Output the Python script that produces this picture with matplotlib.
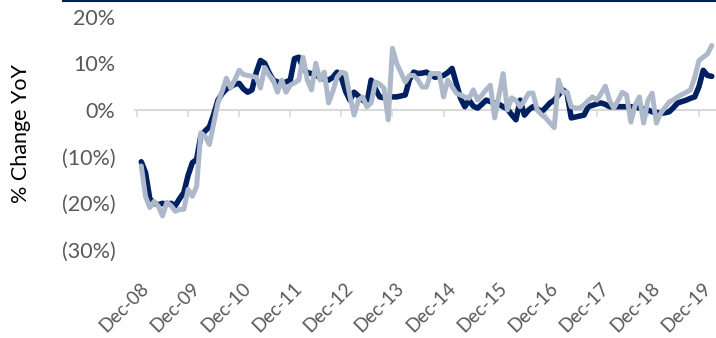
import numpy as np
import matplotlib.pyplot as plt
from matplotlib.lines import Line2D
from matplotlib.ticker import FuncFormatter
from matplotlib.transforms import ScaledTranslation

plt.rcParams['font.family'] = ['Lato', 'DejaVu Sans']

# monthly YoY % change, Jan-09 .. Mar-20
navy_vals = [
    -11.1, -13.4, -19.0, -20.0, -20.3, -20.0, -20.2, -20.0, -20.5, -19.0, -17.7, -14.0,  # 2009
    -11.3, -10.6, -5.5, -4.5, -3.6, -1.0, 2.1, 3.5, 4.5, 5.0, 5.5, 5.7,  # 2010
    4.5, 3.8, 4.3, 8.0, 10.6, 10.0, 8.0, 6.4, 6.0, 5.7, 6.0, 6.4,  # 2011
    11.0, 11.3, 9.0, 8.0, 7.8, 7.4, 7.0, 6.6, 6.4, 7.0, 8.1, 7.0,  # 2012
    4.0, 2.1, 3.8, 3.0, 2.1, 1.5, 6.4, 4.5, 2.8, 2.6, 2.6, 2.8,  # 2013
    2.8, 3.0, 3.2, 6.5, 8.1, 7.8, 7.9, 8.1, 7.5, 7.0, 7.2, 7.4,  # 2014
    8.0, 8.9, 5.7, 2.5, 0.7, 2.1, 0.8, 0.4, 1.2, 2.1, 1.8, 1.5,  # 2015
    1.2, 0.7, 0.2, -1.0, -2.1, 2.1, -1.1, 0.0, 0.7, 0.3, -0.4, 0.5,  # 2016
    1.5, 2.1, 3.2, 4.3, 3.6, -1.7, -1.5, -1.3, -1.1, 0.7, 1.0, 1.3,  # 2017
    1.5, 1.2, 0.7, 0.7, 0.7, 0.7, 0.7, 0.7, 0.6, 0.4, 0.2, 0.0,  # 2018
    -0.4, -0.5, -0.7, -0.6, -0.4, 0.5, 1.5, 1.8, 2.1, 2.5, 2.8, 5.0,  # 2019
    8.5, 7.4, 7.2,  # 2020
]
light_vals = [
    -12.0, -18.5, -20.9, -19.6, -20.6, -22.7, -19.8, -20.5, -21.7, -21.3, -21.3, -17.0,  # 2009
    -18.5, -16.4, -4.9, -5.7, -7.4, -3.0, 1.5, 4.0, 6.8, 4.7, 6.5, 8.5,  # 2010
    7.6, 7.4, 7.2, 7.0, 4.7, 9.1, 7.5, 6.4, 3.8, 6.4, 3.8, 5.3,  # 2011
    5.8, 6.4, 11.3, 6.4, 4.3, 10.0, 6.4, 8.1, 1.5, 4.0, 7.0, 8.1,  # 2012
    7.8, 3.0, -1.1, 2.1, 2.8, 0.7, 1.5, 6.0, 5.5, 4.7, -2.1, 13.2,  # 2013
    10.0, 8.0, 6.0, 7.4, 7.4, 6.4, 4.9, 4.9, 7.8, 7.8, 7.8, 2.8,  # 2014
    6.4, 5.0, 3.6, 3.2, 2.8, 2.5, 4.3, 2.1, 3.2, 4.3, 5.3, -1.7,  # 2015
    3.0, 7.8, 0.0, 2.6, 2.0, 0.7, 2.0, 3.6, 3.6, 0.0, -1.0, -1.7,  # 2016
    -2.8, -3.8, 6.4, 3.8, 3.8, 0.7, 0.4, 0.4, 1.1, 2.0, 2.8, 2.1,  # 2017
    3.5, 5.1, 2.0, 0.4, 2.0, 3.8, 3.2, -2.6, 1.0, 2.8, -2.8, 2.0,  # 2018
    3.6, -2.8, -0.7, 0.5, 1.7, 2.2, 2.8, 3.3, 3.8, 4.3, 7.0, 10.6,  # 2019
    11.3, 12.0, 13.8,  # 2020
]
months = np.arange(1, len(navy_vals) + 1)  # months after Dec-08
tick_pos = np.arange(0, 133, 12)
tick_labels = ['Dec-%02d' % (8 + i) for i in range(len(tick_pos))]
y_ticks = [-30, -20, -10, 0, 10, 20]

navy = '#002060'
light = '#adb9ca'
grey_txt = '#595959'
axis_grey = '#d9d9d9'

fig = plt.figure(figsize=(7.16, 3.38), dpi=100)
ax = fig.add_axes([135 / 716, 1 - 250 / 338, 1 - 135 / 716, (250 - 16.6) / 338])

ax.plot(months, navy_vals, color=navy, lw=4.0, solid_joinstyle='round', solid_capstyle='round', zorder=3)
ax.plot(months, light_vals, color=light, lw=3.6, solid_joinstyle='round', solid_capstyle='round', zorder=4)

ax.set_xlim(-0.47, 136.0)
ax.set_ylim(-30, 20)
ax.set_yticks(y_ticks)
ax.yaxis.set_major_formatter(FuncFormatter(lambda v, p: '0%' if v == 0 else ('%d%%' % v if v > 0 else '(%d%%)' % -v)))
ax.tick_params(axis='y', length=0, pad=14, labelsize=15.5, labelcolor=grey_txt)
ax.set_ylabel('% Change YoY', fontsize=15.5, color='black', labelpad=22)

for s in ['top', 'right', 'left']:
    ax.spines[s].set_visible(False)
ax.spines['bottom'].set_position(('data', 0))
ax.spines['bottom'].set_color(axis_grey)
ax.spines['bottom'].set_linewidth(1.5)
ax.set_xticks(tick_pos)
ax.tick_params(axis='x', direction='out', length=5, width=1.2, color=axis_grey, labelbottom=False)

# date labels sit below the plot area, not on the zero line
sec = ax.secondary_xaxis(0.0)
sec.set_xticks(tick_pos, tick_labels)
sec.spines['bottom'].set_visible(False)
sec.tick_params(length=0, pad=21, labelsize=13.5, labelcolor=grey_txt)
shift = ScaledTranslation(3 / 100, 0, fig.dpi_scale_trans)
for lbl in sec.get_xticklabels():
    lbl.set_rotation(45)
    lbl.set_ha('right')
    lbl.set_rotation_mode('anchor')
    lbl.set_transform(lbl.get_transform() + shift)

fig.add_artist(Line2D([63 / 716, 1], [1 - 1 / 338, 1 - 1 / 338], color=navy, lw=1.5))

fig.savefig('out.png', dpi=100)
